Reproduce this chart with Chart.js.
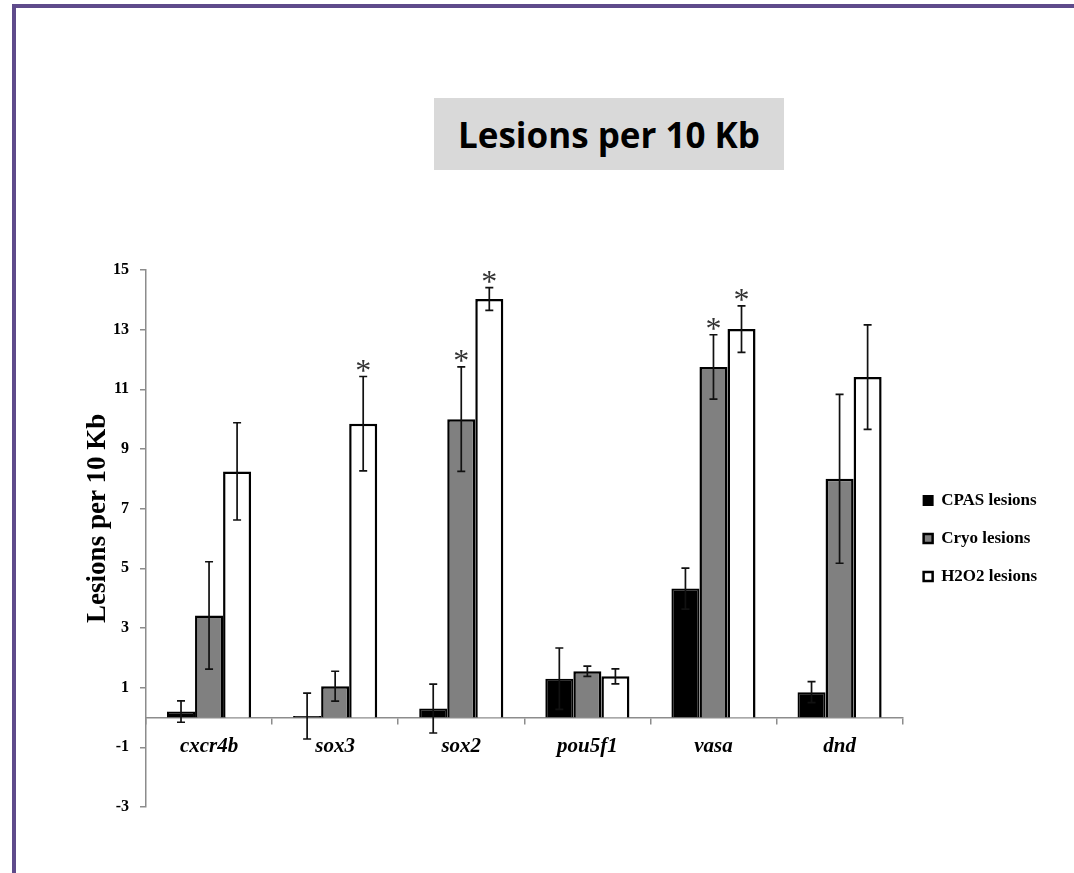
<!DOCTYPE html>
<html>
<head>
<meta charset="utf-8">
<script src="https://cdn.jsdelivr.net/npm/chart.js@4.4.1/dist/chart.umd.min.js"></script>
<style>
    html, body { margin: 0; padding: 0; background: #ffffff; }
    body { width: 1074px; height: 873px; position: relative; overflow: hidden; }
    #frame {
        position: absolute; left: 12px; top: 4px; right: 0; bottom: 0;
        border-top: 4px solid #5f4b8b; border-left: 4px solid #5f4b8b;
    }
    #caption {
        position: absolute; left: 434px; top: 98px; width: 350px; height: 72px;
        background: #d9d9d9; display: flex; align-items: center; justify-content: center;
        font-family: "Open Sans", sans-serif; font-weight: bold; font-size: 35px; color: #000;
    }
    #wrap { position: absolute; left: 0; top: 0; width: 1074px; height: 873px; }
</style>
</head>
<body>
<div id="frame"></div>
<div id="caption">Lesions per 10 Kb</div>
<div id="wrap"><canvas id="lesionChart"></canvas></div>
<script>
// genes on the x axis
const genes = ["cxcr4b", "sox3", "sox2", "pou5f1", "vasa", "dnd"];

// mean lesions per 10 Kb and their error bars
const cpasLesions = [0.2, 0.05, 0.3, 1.3, 4.32, 0.85];
const cpasErr = [0.36, 0.77, 0.82, 1.03, 0.69, 0.35];
const cryoLesions = [3.42, 1.05, 10.0, 1.55, 11.75, 8.0];
const cryoErr = [1.8, 0.5, 1.75, 0.17, 1.08, 2.83];
const h2o2Lesions = [8.25, 9.85, 14.03, 1.38, 13.02, 11.41];
const h2o2Err = [1.63, 1.58, 0.38, 0.25, 0.78, 1.75];

// significance stars
const cpasStar = [false, false, false, false, false, false];
const cryoStar = [false, false, true, false, true, false];
const h2o2Star = [false, true, true, false, true, false];

// y axis ticks
const yMin = -3;
const yMax = 15;
const yStep = 2;

const serif = "'Liberation Serif', 'Times New Roman', serif";

// error bars + asterisks
const errorBarPlugin = {
    id: "errorBars",
    afterDatasetsDraw(chart) {
        const ctx = chart.ctx;
        const yScale = chart.scales.y;
        ctx.save();
        chart.data.datasets.forEach((ds, i) => {
            const meta = chart.getDatasetMeta(i);
            meta.data.forEach((bar, j) => {
                const v = ds.data[j];
                const e = ds.errors[j];
                const top = yScale.getPixelForValue(v + e);
                const bot = yScale.getPixelForValue(v - e);
                const x = bar.x;
                ctx.strokeStyle = "#111111";
                ctx.lineWidth = 1.7;
                ctx.beginPath();
                ctx.moveTo(x, top);
                ctx.lineTo(x, bot);
                ctx.moveTo(x - 4, top);
                ctx.lineTo(x + 4, top);
                ctx.moveTo(x - 4, bot);
                ctx.lineTo(x + 4, bot);
                ctx.stroke();

                if (ds.stars[j]) {
                    ctx.font = "32px " + serif;
                    ctx.fillStyle = "#333333";
                    ctx.textAlign = "center";
                    ctx.textBaseline = "alphabetic";
                    const m = ctx.measureText("*");
                    const cy = top - 11;
                    const baseY = cy + (m.actualBoundingBoxAscent - m.actualBoundingBoxDescent) / 2;
                    ctx.fillText("*", x, baseY);
                }
            });
        });
        ctx.restore();
    }
};

const ctx = document.getElementById("lesionChart").getContext("2d");

const lesionChart = new Chart(ctx, {
    type: "bar",
    data: {
        labels: genes,
        datasets: [
            {
                label: "CPAS lesions",
                data: cpasLesions,
                errors: cpasErr,
                stars: cpasStar,
                backgroundColor: "#000000",
                borderColor: "#000000",
                borderWidth: 2,
            },
            {
                label: "Cryo lesions",
                data: cryoLesions,
                errors: cryoErr,
                stars: cryoStar,
                backgroundColor: "#808080",
                borderColor: "#000000",
                borderWidth: 2.5,
            },
            {
                label: "H2O2 lesions",
                data: h2o2Lesions,
                errors: h2o2Err,
                stars: h2o2Star,
                backgroundColor: "#ffffff",
                borderColor: "#000000",
                borderWidth: 2.5,
            },
        ],
    },
    options: {
        responsive: true,
        maintainAspectRatio: false,
        animation: false,
        layout: {
            padding: { left: 66, top: 270, right: 27, bottom: 66 },
        },
        datasets: {
            bar: {
                barPercentage: 1.0,
                categoryPercentage: 0.667,
            },
        },
        plugins: {
            title: { display: false },
            tooltip: { enabled: false },
            legend: {
                position: "right",
                labels: {
                    color: "#000000",
                    boxWidth: 9,
                    boxHeight: 9,
                    padding: 21,
                    font: { family: serif, size: 17, weight: "bold" },
                },
            },
        },
        scales: {
            x: {
                position: { y: 0 },
                offset: true,
                grid: {
                    display: true,
                    offset: true,
                    drawOnChartArea: false,
                    drawTicks: true,
                    tickLength: 6,
                    color: "#8c8c8c",
                    lineWidth: 1.5,
                },
                border: { color: "#8c8c8c", width: 1.5 },
                ticks: {
                    color: "#000000",
                    padding: 10,
                    maxRotation: 0,
                    font: { family: serif, size: 21, weight: "bold", style: "italic" },
                },
            },
            y: {
                min: yMin,
                max: yMax,
                afterFit(scale) {
                    scale.width = 80;
                },
                grid: {
                    display: true,
                    drawOnChartArea: false,
                    drawTicks: true,
                    tickLength: 6,
                    color: "#8c8c8c",
                    lineWidth: 1.5,
                },
                border: { color: "#8c8c8c", width: 1.5 },
                ticks: {
                    stepSize: yStep,
                    color: "#000000",
                    padding: 11,
                    font: { family: serif, size: 16, weight: "bold" },
                },
                title: {
                    display: true,
                    // leading spaces push the rotated title up a little, as in the original
                    text: "      Lesions per 10 Kb",
                    color: "#000000",
                    padding: { top: 16, bottom: 0 },
                    font: { family: serif, size: 27, weight: "bold" },
                },
            },
        },
    },
    plugins: [errorBarPlugin],
});
</script>
</body>
</html>
